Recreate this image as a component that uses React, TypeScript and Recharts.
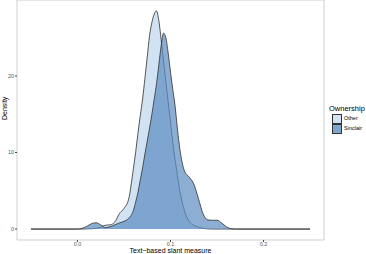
import { Area, ComposedChart, ReferenceArea, XAxis, YAxis } from "recharts";

// slant measure grid (x) shared by both density curves
const slant = [
    -0.05, 0, 0.005, 0.01, 0.015, 0.02, 0.025, 0.03, 0.035, 0.04, 0.045, 0.05, 0.055, 0.06,
    0.0625, 0.065, 0.0675, 0.07, 0.0725, 0.075, 0.0775, 0.08, 0.0825, 0.085, 0.0875, 0.09,
    0.0925, 0.095, 0.0975, 0.1, 0.1025, 0.105, 0.1075, 0.11, 0.115, 0.12, 0.125, 0.13, 0.135,
    0.14, 0.145, 0.15, 0.155, 0.16, 0.165, 0.17, 0.25
];

const otherDensity = [
    0, 0, 0, 0.02, 0.05, 0.1, 0.25, 0.5, 0.55, 0.9, 2.0, 2.7, 3.9, 7.8,
    10, 12.5, 14.8, 17, 19.7, 22.5, 25.3, 27, 28.1, 28.5, 27.2, 24.7,
    22, 19.3, 16.6, 14, 11.3, 9, 7, 5, 2.4, 1.0, 0.5, 0.25, 0.1,
    0.03, 0, 0, 0, 0, 0, 0, 0
];

const sinclairDensity = [
    0, 0, 0.1, 0.35, 0.7, 0.82, 0.55, 0.2, 0.3, 0.55, 0.8, 1.0, 1.4, 2.4,
    3.5, 4.8, 6.4, 8.0, 9.8, 11.5, 13.2, 15, 17, 19, 21.5, 24,
    25.6, 25, 23, 20.5, 18.2, 16, 13, 10.5, 7.6, 6.8, 5.9, 4.0, 2.0,
    1.2, 1.15, 1.15, 0.8, 0.3, 0.05, 0, 0
];

const xTicks = [0, 0.1, 0.2];
const yTicks = [0, 10, 20];

const groups = [
    { key: "Other", fill: "#c6dbef", opacity: 0.8, swatch: "#d1e2f2" },
    { key: "Sinclair", fill: "#5b8cc0", opacity: 0.7, swatch: "#7ea6cf" }
];

const rows = slant.map((x, i) => ({ x, Other: otherDensity[i], Sinclair: sinclairDensity[i] }));

const font = "'Liberation Sans', Arial, sans-serif";

function OwnershipLegend() {
    return (
        <div style={{ position: "absolute", left: 329, top: 105, fontFamily: font, color: "#000", lineHeight: 1 }}>
            <div style={{ fontSize: 7.5, marginBottom: 1 }}>Ownership</div>
            {groups.map((g) => (
                <div key={g.key} style={{ display: "flex", alignItems: "center", height: 10, marginLeft: 3 }}>
                    <span
                        style={{
                            display: "inline-block",
                            boxSizing: "border-box",
                            width: 10,
                            height: 10,
                            background: g.swatch,
                            border: "0.8px solid #333"
                        }}
                    />
                    <span style={{ fontSize: 5.5, marginLeft: 2 }}>{g.key}</span>
                </div>
            ))}
        </div>
    );
}

export default function App() {
    return (
        <div style={{ position: "absolute", left: 0, top: 0, width: 366, height: 254 }}>
            <style>{"body{margin:0}"}</style>
            <ComposedChart width={366} height={254} data={rows} margin={{ top: 0, right: 42, bottom: 0, left: 0 }}>
                <ReferenceArea
                    x1={-0.065}
                    x2={0.265}
                    y1={-1.43}
                    y2={29.93}
                    fill="none"
                    stroke="#cfcfcf"
                    strokeWidth={1}
                    ifOverflow="visible"
                />
                <XAxis
                    dataKey="x"
                    type="number"
                    domain={[-0.065, 0.265]}
                    ticks={xTicks}
                    tickFormatter={(v: number) => v.toFixed(1)}
                    axisLine={false}
                    tickLine={{ stroke: "#444" }}
                    tickSize={2}
                    tickMargin={0}
                    height={14}
                    tick={{ fontSize: 5.5, fill: "#555", fontFamily: font }}
                    label={{ value: "Text\u2212based slant measure", position: "insideBottom", offset: 1, fontSize: 7, fill: "#000", fontFamily: font }}
                />
                <YAxis
                    type="number"
                    domain={[-1.43, 29.93]}
                    ticks={yTicks}
                    axisLine={false}
                    tickLine={{ stroke: "#444" }}
                    tickSize={2}
                    tickMargin={1}
                    width={17}
                    tick={{ fontSize: 5.5, fill: "#555", fontFamily: font }}
                    label={{ value: "Density", angle: -90, position: "insideLeft", offset: 0, dx: 5, fontSize: 7, fill: "#000", fontFamily: font }}
                />
                {groups.map((g) => (
                    <Area
                        key={g.key}
                        dataKey={g.key}
                        type="monotone"
                        baseValue={0}
                        fill={g.fill}
                        fillOpacity={g.opacity}
                        stroke="#2e2e2e"
                        strokeWidth={0.8}
                        dot={false}
                        activeDot={false}
                        isAnimationActive={false}
                    />
                ))}
            </ComposedChart>
            <OwnershipLegend />
        </div>
    );
}
